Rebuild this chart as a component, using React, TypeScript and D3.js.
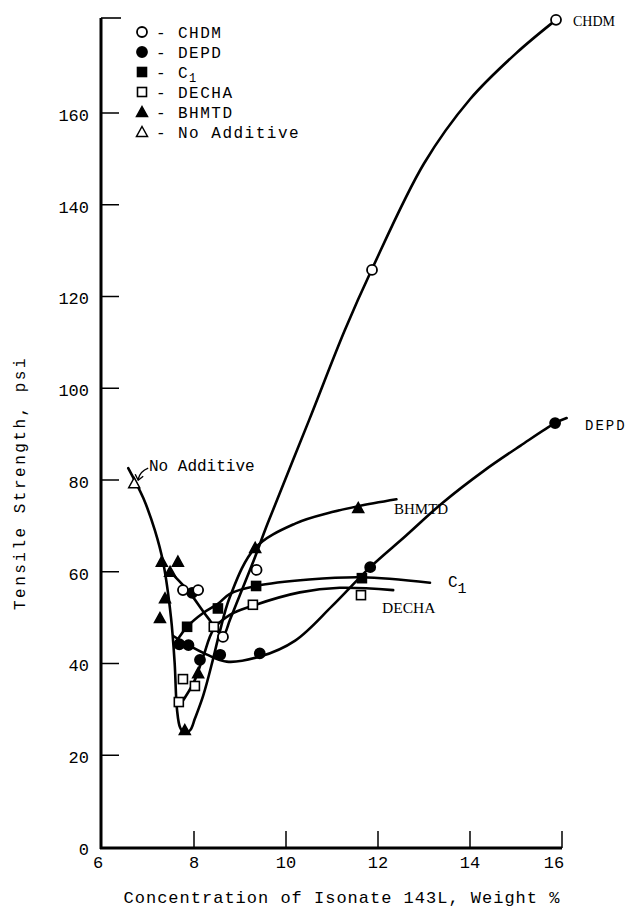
import React, { useEffect, useRef } from 'react'
import * as d3 from 'd3'

// axis ticks
const xTicks = [6, 8, 10, 12, 14, 16]
const yTicks = [0, 20, 40, 60, 80, 100, 120, 140, 160]

// plotted points  [weight %, psi]
const chdmPts = [[7.76, 56.0], [8.09, 56.0], [8.63, 45.8], [9.36, 60.4], [11.87, 125.8], [15.87, 180.3]]
const depdPts = [[7.96, 55.4], [7.68, 44.2], [7.88, 44.0], [8.13, 40.8], [8.57, 41.9], [9.43, 42.2], [11.83, 61.0], [15.85, 92.4]]
const c1Pts = [[7.85, 48.0], [8.52, 52.0], [9.35, 56.9], [11.65, 58.6]]
const dechaPts = [[7.67, 31.6], [7.76, 36.6], [8.02, 35.1], [8.43, 48.0], [9.28, 52.8], [11.63, 54.9]]
const bhmtdPts = [[7.30, 62.2], [7.65, 62.2], [7.48, 60.0], [7.37, 54.2], [7.26, 49.9], [8.09, 37.9], [7.80, 25.5], [9.33, 65.2], [11.57, 73.9]]
const noAddPts = [[6.70, 79.3]]

// hand drawn curves
const chdmCurve = [[7.58, 59], [7.9, 55.5], [8.3, 50], [8.63, 46.2], [8.78, 49.5], [9.0, 55], [9.3, 62.5], [9.6, 70.5], [10.5, 93], [11.28, 112.7], [11.87, 126], [13, 149], [14, 163], [15, 173], [15.87, 180.3]]
const bhmtdCurve = [[6.57, 82.6], [6.9, 76], [7.15, 69], [7.33, 62], [7.5, 50], [7.58, 40], [7.63, 30], [7.7, 26], [7.8, 24.8], [7.92, 25.5], [8.02, 28], [8.2, 33], [8.41, 40.8], [8.55, 46.5], [8.78, 54.5], [9.33, 65.2], [10.2, 70.5], [11.0, 73], [11.57, 74.3], [12.4, 75.8]]
const depdCurve = [[7.55, 46], [7.88, 44], [8.27, 42], [8.71, 40.4], [9.43, 41.5], [10.2, 45], [11.0, 52.5], [11.83, 61], [12.6, 67.8], [13.4, 75], [14.3, 82], [15.1, 87.5], [15.85, 92.4], [16.1, 93.5]]
const c1Curve = [[7.63, 45], [7.85, 48], [8.2, 51], [8.52, 53], [8.78, 55.2], [9.35, 56.9], [10.5, 58.3], [11.65, 58.8], [13.13, 57.6]]
const dechaCurve = [[7.7, 31], [8.0, 36], [8.2, 41.5], [8.43, 47.5], [8.78, 50.6], [9.28, 52.6], [10.3, 55.5], [11.17, 56.5], [12.33, 56]]

const legendNames = ['CHDM', 'DEPD', 'C', 'DECHA', 'BHMTD', 'No Additive']
const legendMarks = ['circleOpen', 'circleFilled', 'squareFilled', 'squareOpen', 'triFilled', 'triOpen']

const mono = '"Liberation Mono", monospace'
const serif = '"Liberation Serif", serif'

function drawMark(g, kind, cx, cy) {
  if (kind.startsWith('circle')) {
    g.append('circle').attr('cx', cx).attr('cy', cy).attr('r', 5)
      .attr('fill', kind === 'circleOpen' ? '#fff' : '#000')
      .attr('stroke', '#000').attr('stroke-width', 1.8)
  } else if (kind.startsWith('square')) {
    g.append('rect').attr('x', cx - 4.5).attr('y', cy - 4.5).attr('width', 9).attr('height', 9)
      .attr('fill', kind === 'squareOpen' ? '#fff' : '#000')
      .attr('stroke', '#000').attr('stroke-width', 1.6)
  } else {
    g.append('path')
      .attr('d', `M${cx},${cy - 5.5}L${cx + 5.5},${cy + 4.5}L${cx - 5.5},${cy + 4.5}Z`)
      .attr('fill', kind === 'triOpen' ? '#fff' : '#000')
      .attr('stroke', '#000').attr('stroke-width', 1.5)
  }
}

export default function App() {
  const ref = useRef(null)

  useEffect(() => {
    const svg = d3.select(ref.current)
    svg.selectAll('*').remove()

    const x = d3.scaleLinear().domain([6, 16]).range([102, 562])
    const y = d3.scaleLinear().domain([0, 160]).range([847, 113])
    const yTop = 18

    // axes
    const ax = svg.append('g')
    ax.append('line').attr('x1', 101).attr('x2', 101).attr('y1', yTop).attr('y2', 849)
      .attr('stroke', '#000').attr('stroke-width', 3)
    ax.append('line').attr('x1', 100).attr('x2', x(16)).attr('y1', 848).attr('y2', 848)
      .attr('stroke', '#000').attr('stroke-width', 3)
    ax.append('line').attr('x1', 101).attr('x2', 121).attr('y1', yTop).attr('y2', yTop)
      .attr('stroke', '#000').attr('stroke-width', 1.6)

    yTicks.forEach(t => {
      if (t > 0) {
        ax.append('line').attr('x1', 101).attr('x2', 119).attr('y1', y(t)).attr('y2', y(t))
          .attr('stroke', '#000').attr('stroke-width', 1.5)
      }
      ax.append('text').attr('x', 89).attr('y', y(t) + 2).attr('dy', '0.35em')
        .attr('text-anchor', 'end').attr('font-family', mono).attr('font-size', 17)
        .text(t)
    })
    xTicks.forEach(t => {
      if (t > 6) {
        ax.append('line').attr('x1', x(t)).attr('x2', x(t)).attr('y1', 848).attr('y2', 831)
          .attr('stroke', '#000').attr('stroke-width', 1.5)
      }
      ax.append('text').attr('x', x(t) - (t === 16 ? 8 : t === 6 ? 4 : 0)).attr('y', 868)
        .attr('text-anchor', 'middle').attr('font-family', mono).attr('font-size', 17)
        .text(t)
    })

    svg.append('text').attr('x', 342).attr('y', 903).attr('text-anchor', 'middle')
      .attr('font-family', mono).attr('font-size', 17).attr('letter-spacing', 1)
      .text('Concentration of Isonate 143L, Weight %')
    svg.append('text').attr('transform', 'translate(25,483) rotate(-90)')
      .attr('text-anchor', 'middle').attr('font-family', mono).attr('font-size', 16)
      .attr('letter-spacing', 2.5)
      .text('Tensile Strength, psi')

    // curves
    const line = d3.line().x(d => x(d[0])).y(d => y(d[1])).curve(d3.curveCatmullRom.alpha(0.5))
    const cg = svg.append('g').attr('fill', 'none').attr('stroke', '#000').attr('stroke-width', 2.6)
      .attr('stroke-linejoin', 'round').attr('stroke-linecap', 'round')
    ;[chdmCurve, bhmtdCurve, depdCurve, c1Curve, dechaCurve].forEach(c => {
      cg.append('path').attr('d', line(c))
    })

    // markers
    const mg = svg.append('g')
    const sets = [
      [depdPts, 'circleFilled'], [c1Pts, 'squareFilled'], [bhmtdPts, 'triFilled'],
      [dechaPts, 'squareOpen'], [chdmPts, 'circleOpen'], [noAddPts, 'triOpen'],
    ]
    sets.forEach(([pts, kind]) => pts.forEach(p => drawMark(mg, kind, x(p[0]), y(p[1]))))

    // curve labels
    const lab = svg.append('g').attr('fill', '#000')
    lab.append('text').attr('x', 573).attr('y', 26).attr('font-family', serif).attr('font-size', 14).text('CHDM')
    lab.append('text').attr('x', 585).attr('y', 430).attr('font-family', mono).attr('font-size', 14)
      .attr('letter-spacing', 2).text('DEPD')
    lab.append('text').attr('x', 394).attr('y', 514).attr('font-family', serif).attr('font-size', 15).text('BHMTD')
    const c1l = lab.append('text').attr('x', 448).attr('y', 587).attr('font-family', mono).attr('font-size', 16)
    c1l.append('tspan').text('C')
    c1l.append('tspan').attr('dy', 6).attr('font-size', 15).text('1')
    lab.append('text').attr('x', 382).attr('y', 613).attr('font-family', serif).attr('font-size', 15.5).text('DECHA')

    // No Additive annotation
    const nx = x(noAddPts[0][0]), ny = y(noAddPts[0][1])
    lab.append('text').attr('x', 149).attr('y', 471).attr('font-family', mono).attr('font-size', 16).text('No Additive')
    lab.append('path')
      .attr('d', `M${nx + 14},${ny - 15} Q${nx + 6},${ny - 12} ${nx + 4},${ny - 4}`)
      .attr('fill', 'none').attr('stroke', '#000').attr('stroke-width', 1.4)
    lab.append('path')
      .attr('d', `M${nx + 1},${ny - 9} L${nx + 4},${ny - 3} L${nx + 9},${ny - 7}`)
      .attr('fill', 'none').attr('stroke', '#000').attr('stroke-width', 1.4)

    // legend
    const lg = svg.append('g')
    legendNames.forEach((name, i) => {
      const ly = 32 + i * 20
      drawMark(lg, legendMarks[i], 142, ly)
      lg.append('text').attr('x', 156).attr('y', ly).attr('dy', '0.35em')
        .attr('font-family', mono).attr('font-size', 16).text('-')
      const t = lg.append('text').attr('x', 178).attr('y', ly).attr('dy', '0.35em')
        .attr('font-family', mono).attr('font-size', 16).attr('letter-spacing', 1.5).text(name)
      if (name === 'C') {
        t.append('tspan').attr('dy', 4).attr('font-size', 12).text('1')
      }
    })
  }, [])

  return (
    <svg ref={ref} width={629} height={907}
      style={{ position: 'absolute', left: 0, top: 0, background: '#fff' }} />
  )
}
